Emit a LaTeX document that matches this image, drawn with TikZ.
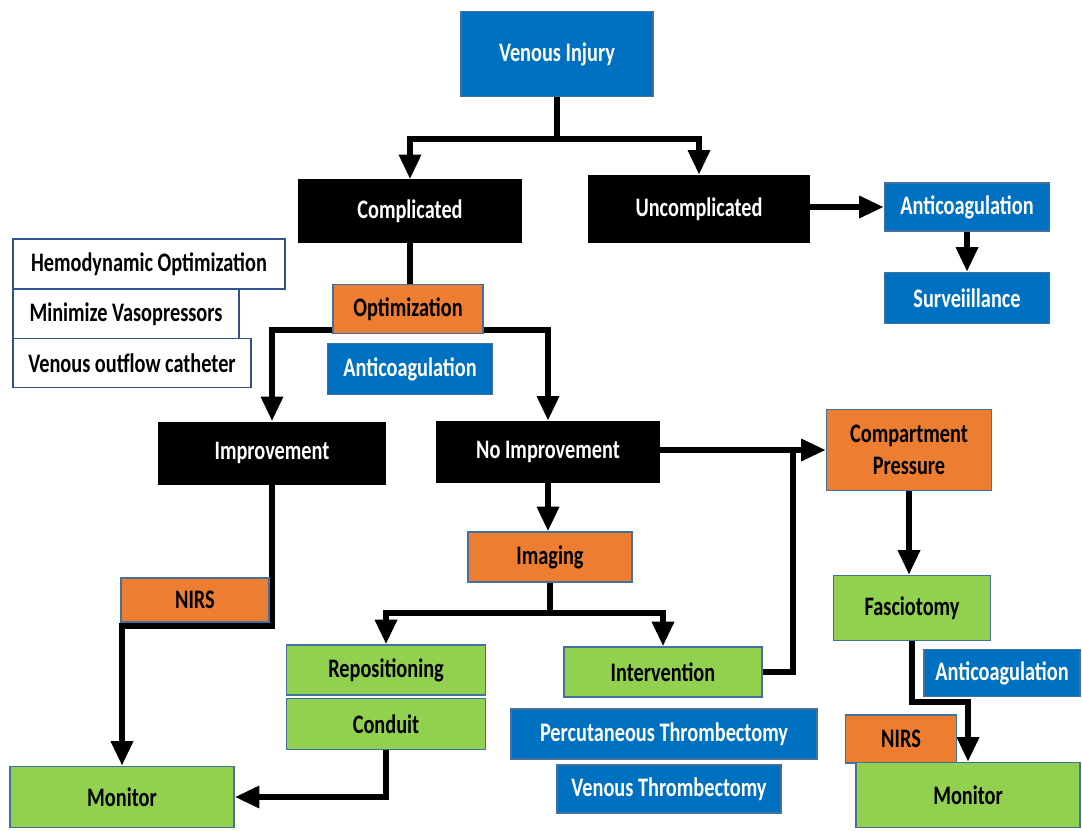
\documentclass[tikz,border=0pt]{standalone}
\usepackage{fontspec}
\setmainfont{Carlito}[FakeStretch=0.76]
\usepackage{tikz}
\usetikzlibrary{arrows.meta}
\definecolor{boxblue}{HTML}{0070C0}
\definecolor{boxorange}{HTML}{ED7D31}
\definecolor{boxgreen}{HTML}{92D050}
\definecolor{boxline}{HTML}{41719C}
\definecolor{sideline}{HTML}{2F528F}
\tikzstyle{base} = [rectangle, inner sep=2pt, text centered, font=\fontsize{19pt}{23pt}\selectfont\bfseries]
\tikzstyle{blackbox} = [base, fill=black, text=white]
\tikzstyle{bluebox} = [base, fill=boxblue, draw=boxline, line width=1pt, text=white]
\tikzstyle{orangebox} = [base, fill=boxorange, draw=boxline, line width=1pt, text=black]
\tikzstyle{greenbox} = [base, fill=boxgreen, draw=boxline, line width=1pt, text=black]
\tikzstyle{sidebox} = [base, fill=white, draw=sideline, line width=1pt, text=black]
\tikzstyle{arrow} = [line width=4.2pt, -{Triangle[width=15pt,length=17.5pt]}]
\tikzstyle{link} = [line width=4.2pt]
\pgfdeclarelayer{bg}
\pgfsetlayers{bg,main}

\begin{document}
\begin{tikzpicture}[x=0.025cm, y=-0.025cm]
\useasboundingbox (0,0) rectangle (1082,830);

\node (venous) [bluebox, minimum width=4.8cm, minimum height=2.125cm] at (557,54) {Venous Injury};
\node (compl) [blackbox, minimum width=5.6cm, minimum height=1.575cm] at (410,211) {Complicated};
\node (uncompl) [blackbox, minimum width=5.55cm, minimum height=1.7cm] at (699,209) {Uncomplicated};
\node (anti1) [bluebox, minimum width=4.125cm, minimum height=1.2cm] at (967,207) {Anticoagulation};
\node (surv) [bluebox, minimum width=4.125cm, minimum height=1.275cm] at (967,298) {Surveiillance};

\node (hemo) [sidebox, minimum width=6.8cm, minimum height=1.25cm] at (149,264) {Hemodynamic Optimization};
\node (vaso) [sidebox, minimum width=5.65cm, minimum height=1.25cm] at (126,314) {Minimize Vasopressors};
\node (cath) [sidebox, minimum width=5.95cm, minimum height=1.225cm] at (132,363) {Venous outflow catheter};

\node (optim) [orangebox, minimum width=3.75cm, minimum height=1.225cm] at (408,309) {Optimization};
\node (anti2) [bluebox, minimum width=4.125cm, minimum height=1.275cm] at (410,369) {Anticoagulation};

\node (improv) [blackbox, minimum width=5.675cm, minimum height=1.575cm] at (272,453) {Improvement};
\node (noimprov) [blackbox, minimum width=5.6cm, minimum height=1.55cm] at (548,452) {No Improvement};
\node (pressure) [orangebox, minimum width=4.125cm, minimum height=2.025cm, align=center] at (909,450) {Compartment\\Pressure};

\node (imaging) [orangebox, minimum width=4.1cm, minimum height=1.25cm] at (550,557) {Imaging};
\node (nirs1) [orangebox, minimum width=3.7cm, minimum height=1.1cm] at (195,600) {NIRS};
\node (repos) [greenbox, minimum width=4.975cm, minimum height=1.25cm] at (386,670) {Repositioning};
\node (conduit) [greenbox, minimum width=4.975cm, minimum height=1.275cm] at (386,724) {Conduit};
\node (interv) [greenbox, minimum width=4.95cm, minimum height=1.25cm] at (663,672) {Intervention};
\node (percut) [bluebox, minimum width=7.65cm, minimum height=1.25cm] at (664,734) {Percutaneous Thrombectomy};
\node (vthromb) [bluebox, minimum width=5.6cm, minimum height=1.2cm] at (669,789) {Venous Thrombectomy};
\node (monitor1) [greenbox, minimum width=5.6cm, minimum height=1.525cm] at (122,797) {Monitor};

\node (fascio) [greenbox, minimum width=3.925cm, minimum height=1.625cm] at (912,608) {Fasciotomy};
\node (anti3) [bluebox, minimum width=3.9cm, minimum height=1.175cm] at (1002,673) {Anticoagulation};
\node (nirs2) [orangebox, minimum width=2.775cm, minimum height=1.2cm] at (901,739) {NIRS};
\node (monitor2) [greenbox, minimum width=5.6cm, minimum height=1.625cm] at (968,795) {Monitor};

% connectors behind the boxes
\begin{pgfonlayer}{bg}
\coordinate (s1) at (557,139);
\draw [arrow] (venous.south) -- (s1) -| (compl.north);
\draw [arrow] (s1) -| (uncompl.north);
\draw [arrow] (uncompl.east |- anti1.west) -- (anti1.west);
\draw [arrow] (anti1) -- (surv);

\draw [link] (compl.south) -- (compl.south |- optim.north);
\draw [arrow] ([yshift=3pt]optim.south) -| (improv.north);
\draw [arrow] ([yshift=3pt]optim.south) -| (noimprov.north);

\coordinate (s2) at (272,626);
\draw [arrow] (improv.south) -- (s2) -| (monitor1.north);

\draw [arrow] (noimprov.east |- pressure.west) -- (pressure.west);
\coordinate (s3) at (793,450);
\draw [link] (interv.east) -| (s3);
\draw [arrow] (noimprov.south) -- (noimprov.south |- imaging.north);

\coordinate (s4) at (550,613);
\draw [arrow] (imaging.south) -- (s4) -| (repos.north);
\draw [arrow] (s4) -| (interv.north);
\draw [arrow] (conduit.south) |- (monitor1.east);

\draw [arrow] (pressure.south) -- (pressure.south |- fascio.north);
\coordinate (s5) at (912,702);
\draw [arrow] (fascio.south) -- (s5) -| (monitor2.north);
\end{pgfonlayer}

\end{tikzpicture}
\end{document}
